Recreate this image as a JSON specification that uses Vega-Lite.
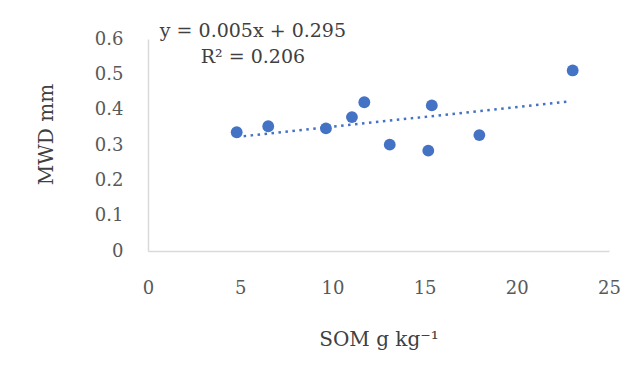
{
  "$schema": "https://vega.github.io/schema/vega-lite/v6.json",
  "autosize": {"type": "none"},
  "width": 461,
  "height": 212,
  "padding": {"left": 148, "top": 39, "right": 28, "bottom": 125},
  "background": "white",
  "config": {
    "view": {"stroke": null},
    "font": "DejaVu Serif",
    "axis": {
      "grid": false,
      "ticks": false,
      "labelOverlap": false,
      "labelFlush": false,
      "domainColor": "#d9d9d9",
      "domainWidth": 1.5,
      "labelFont": "DejaVu Serif",
      "labelFontSize": 18,
      "labelColor": "#595959",
      "titleFont": "DejaVu Serif",
      "titleFontSize": 20,
      "titleFontWeight": "normal",
      "titleColor": "#404040"
    }
  },
  "datasets": {
    "pts": [
      {"som": 4.81, "mwd": 0.336},
      {"som": 6.52, "mwd": 0.353},
      {"som": 9.65, "mwd": 0.347},
      {"som": 11.06, "mwd": 0.379},
      {"som": 11.73, "mwd": 0.421},
      {"som": 13.11, "mwd": 0.301},
      {"som": 15.39, "mwd": 0.412},
      {"som": 15.2, "mwd": 0.284},
      {"som": 17.97, "mwd": 0.328},
      {"som": 23.03, "mwd": 0.511}
    ],
    "trend": [
      {"som": 4.81, "mwd": 0.323},
      {"som": 22.71, "mwd": 0.4223}
    ],
    "eq": [
      {"som": 5.69, "mwd": 0.624, "label": "y = 0.005x + 0.295"},
      {"som": 5.69, "mwd": 0.548, "label": "R² = 0.206"}
    ]
  },
  "layer": [
    {
      "data": {"name": "trend"},
      "mark": {"type": "line", "color": "#4472C4", "strokeWidth": 2.5, "strokeDash": [2.5, 4.5], "clip": false},
      "encoding": {
        "x": {"field": "som", "type": "quantitative", "scale": {"domain": [0, 25], "nice": false},
              "axis": {"values": [0, 5, 10, 15, 20, 25], "tickCount": 6, "labelPadding": 28, "title": "SOM g kg⁻¹", "titlePadding": 32}},
        "y": {"field": "mwd", "type": "quantitative", "scale": {"domain": [0, 0.6], "nice": false},
              "axis": {"values": [0, 0.1, 0.2, 0.3, 0.4, 0.5, 0.6], "tickCount": 7, "format": ".1~f", "labelPadding": 25, "title": "MWD mm", "titlePadding": 38, "titleY": 95}}
      }
    },
    {
      "data": {"name": "pts"},
      "mark": {"type": "point", "filled": true, "opacity": 1, "color": "#4472C4", "size": 140},
      "encoding": {
        "x": {"field": "som", "type": "quantitative"},
        "y": {"field": "mwd", "type": "quantitative"}
      }
    },
    {
      "data": {"name": "eq"},
      "mark": {"type": "text", "fontSize": 19, "color": "#404040", "align": "center", "baseline": "middle", "clip": false},
      "encoding": {
        "x": {"field": "som", "type": "quantitative"},
        "y": {"field": "mwd", "type": "quantitative"},
        "text": {"field": "label"}
      }
    }
  ]
}
